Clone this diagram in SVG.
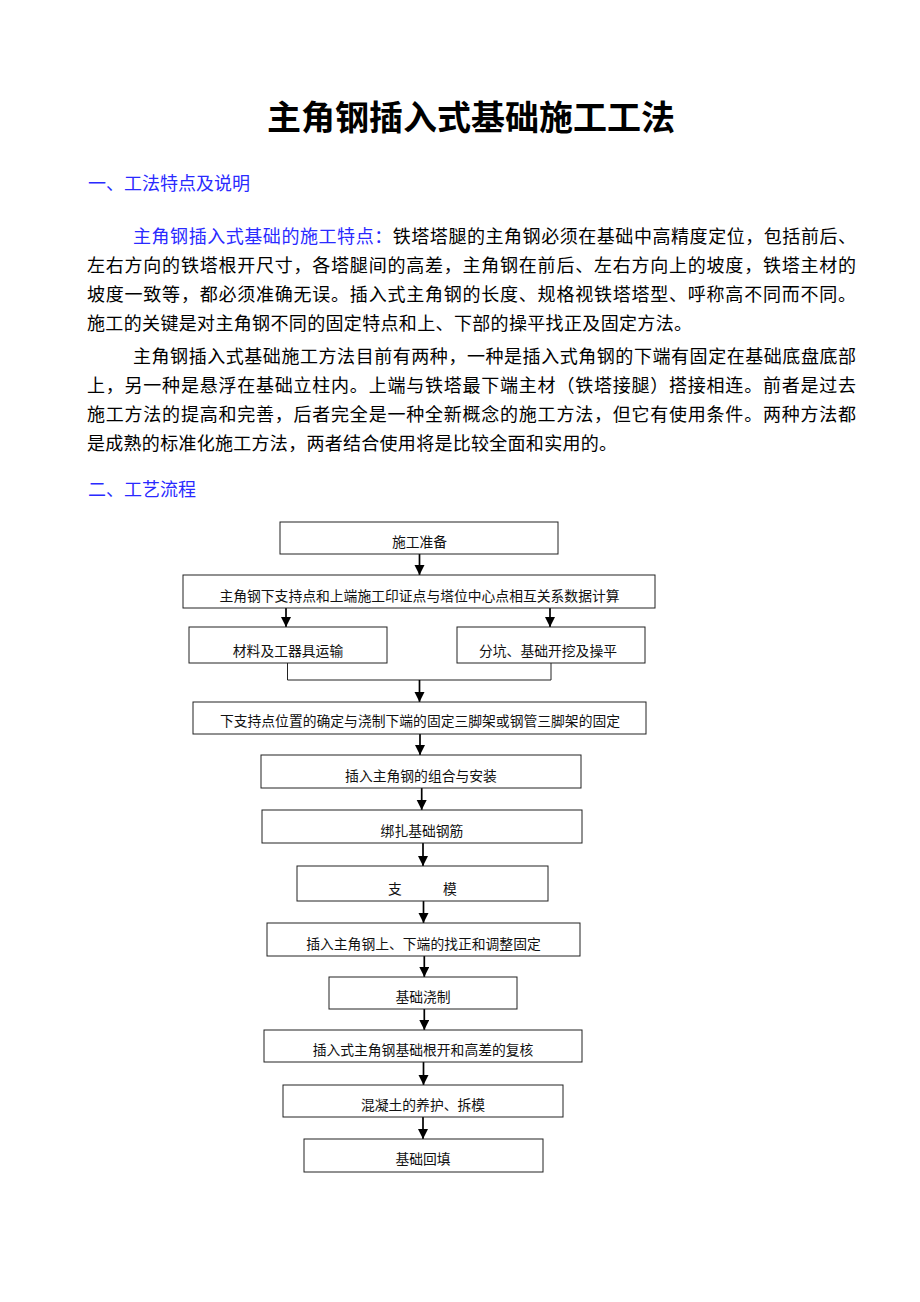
<svg xmlns="http://www.w3.org/2000/svg" width="920" height="1302" viewBox="0 0 920 1302">
<style>
.t{font-family:"Liberation Serif","Noto Sans CJK SC",serif;fill:#000}
.title{font-size:34px;font-weight:bold}
.h{font-size:18px;fill:#2a2aff}
.p{font-size:18px}
.blue{fill:#2a2aff}
.n{font-size:13.8px;text-anchor:middle;fill:#111}
.box{fill:#fff;stroke:#222;stroke-width:1}
.c{stroke:#000;stroke-width:1.7;fill:none}
.m{stroke:#222;stroke-width:1;fill:none}
</style>
<defs>
<marker id="ah" markerWidth="10" markerHeight="11" refX="10" refY="5" orient="auto" markerUnits="userSpaceOnUse">
<path d="M0,0 L10,5 L0,10 z" fill="#000"/>
</marker>
</defs>
<rect width="920" height="1302" fill="#fff"/>
<text class="t title" x="471" y="130" text-anchor="middle">主角钢插入式基础施工工法</text>
<text class="t h" x="88" y="190">一、工法特点及说明</text>
<text class="t p" x="133" y="243" textLength="723" lengthAdjust="spacing"><tspan class="blue">主角钢插入式基础的施工特点：</tspan>铁塔塔腿的主角钢必须在基础中高精度定位，包括前后、</text>
<text class="t p" x="87" y="272" textLength="769" lengthAdjust="spacing">左右方向的铁塔根开尺寸，各塔腿间的高差，主角钢在前后、左右方向上的坡度，铁塔主材的</text>
<text class="t p" x="87" y="301" textLength="769" lengthAdjust="spacing">坡度一致等，都必须准确无误。插入式主角钢的长度、规格视铁塔塔型、呼称高不同而不同。</text>
<text class="t p" x="87" y="330" textLength="605" lengthAdjust="spacing">施工的关键是对主角钢不同的固定特点和上、下部的操平找正及固定方法。</text>
<text class="t p" x="133" y="363" textLength="723" lengthAdjust="spacing">主角钢插入式基础施工方法目前有两种，一种是插入式角钢的下端有固定在基础底盘底部</text>
<text class="t p" x="87" y="392" textLength="769" lengthAdjust="spacing">上，另一种是悬浮在基础立柱内。上端与铁塔最下端主材（铁塔接腿）搭接相连。前者是过去</text>
<text class="t p" x="87" y="421" textLength="769" lengthAdjust="spacing">施工方法的提高和完善，后者完全是一种全新概念的施工方法，但它有使用条件。两种方法都</text>
<text class="t p" x="87" y="450" textLength="530" lengthAdjust="spacing">是成熟的标准化施工方法，两者结合使用将是比较全面和实用的。</text>
<text class="t h" x="88" y="496">二、工艺流程</text>

<g id="connectors">
<line class="c" x1="419.5" y1="554" x2="419.5" y2="575" marker-end="url(#ah)"/>
<line class="c" x1="286" y1="608" x2="286" y2="627" marker-end="url(#ah)"/>
<line class="c" x1="550" y1="608" x2="550" y2="627" marker-end="url(#ah)"/>
<polyline class="m" points="287.5,663 287.5,680 551,680 551,663"/>
<line class="c" x1="419.5" y1="680" x2="419.5" y2="702" marker-end="url(#ah)"/>
<line class="c" x1="420" y1="734" x2="420" y2="755" marker-end="url(#ah)"/>
<line class="c" x1="421.7" y1="788" x2="421.7" y2="810" marker-end="url(#ah)"/>
<line class="c" x1="423" y1="843" x2="423" y2="866" marker-end="url(#ah)"/>
<line class="c" x1="423.5" y1="901" x2="423.5" y2="923" marker-end="url(#ah)"/>
<line class="c" x1="424.3" y1="956" x2="424.3" y2="977" marker-end="url(#ah)"/>
<line class="c" x1="424.3" y1="1009" x2="424.3" y2="1030" marker-end="url(#ah)"/>
<line class="c" x1="423.5" y1="1062" x2="423.5" y2="1085" marker-end="url(#ah)"/>
<line class="c" x1="423" y1="1117" x2="423" y2="1139" marker-end="url(#ah)"/>
</g>

<g id="n1"><rect class="box" x="280" y="522" width="278" height="32"/><text class="t n" x="419.5" y="547">施工准备</text></g>
<g id="n2"><rect class="box" x="183" y="575" width="472" height="33"/><text class="t n" x="419.5" y="601">主角钢下支持点和上端施工印证点与塔位中心点相互关系数据计算</text></g>
<g id="n3"><rect class="box" x="189" y="627" width="198" height="36"/><text class="t n" x="288" y="655.5">材料及工器具运输</text></g>
<g id="n4"><rect class="box" x="457" y="627" width="188" height="36"/><text class="t n" x="548" y="655.5">分坑、基础开挖及操平</text></g>
<g id="n5"><rect class="box" x="193" y="702" width="453" height="32"/><text class="t n" x="420" y="726">下支持点位置的确定与浇制下端的固定三脚架或钢管三脚架的固定</text></g>
<g id="n6"><rect class="box" x="261" y="755" width="320" height="33"/><text class="t n" x="421" y="780.5">插入主角钢的组合与安装</text></g>
<g id="n7"><rect class="box" x="262" y="810" width="320" height="33"/><text class="t n" x="422" y="835.5">绑扎基础钢筋</text></g>
<g id="n8"><rect class="box" x="297" y="866" width="251" height="35"/><text class="t n" y="893.5"><tspan x="395">支</tspan><tspan x="450">模</tspan></text></g>
<g id="n9"><rect class="box" x="267" y="923" width="313" height="33"/><text class="t n" x="423.5" y="948.5">插入主角钢上、下端的找正和调整固定</text></g>
<g id="n10"><rect class="box" x="329" y="977" width="188" height="32"/><text class="t n" x="423" y="1001.5">基础浇制</text></g>
<g id="n11"><rect class="box" x="264" y="1030" width="318" height="32"/><text class="t n" x="423" y="1054.5">插入式主角钢基础根开和高差的复核</text></g>
<g id="n12"><rect class="box" x="283" y="1085" width="280" height="32"/><text class="t n" x="423" y="1109.5">混凝土的养护、拆模</text></g>
<g id="n13"><rect class="box" x="304" y="1139" width="239" height="33"/><text class="t n" x="423" y="1164">基础回填</text></g>
</svg>
